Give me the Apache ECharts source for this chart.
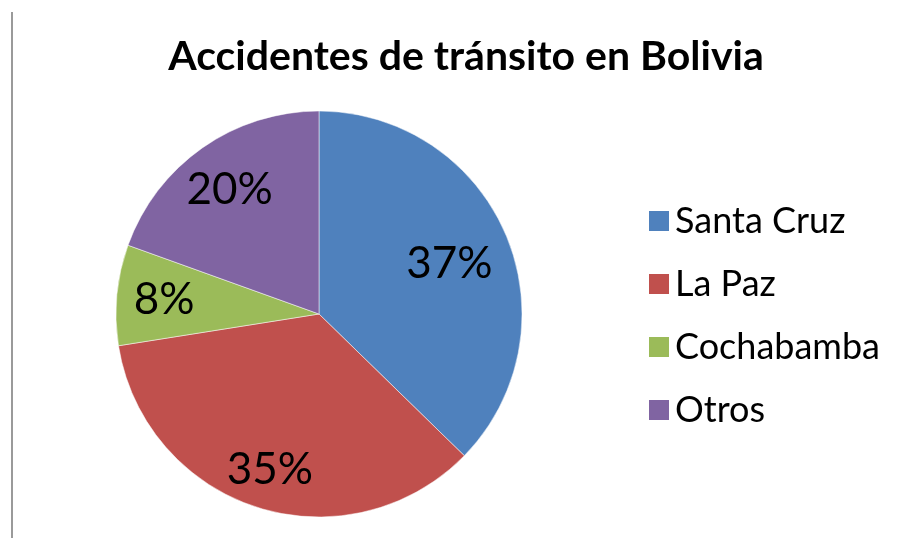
<!DOCTYPE html>
<html>
<head>
<meta charset="utf-8">
<script src="https://cdn.jsdelivr.net/npm/echarts@6/dist/echarts.min.js"></script>
<style>
html,body{margin:0;padding:0;background:#fff;}
#chart{width:899px;height:538px;}
</style>
</head>
<body>
<div id="chart"></div>
<script>
const titleText = 'Accidentes de tránsito en Bolivia';
const categories = ['Santa Cruz', 'La Paz', 'Cochabamba', 'Otros'];
const values = [37.3, 35.2, 8.0, 19.5];
const colors = ['#4F81BD', '#C0504D', '#9BBB59', '#8064A2'];

const FONT = 'Lato';
// small label nudges (style only), per slice
const labelNudgeX = [-13, -2, 0, 0];
const labelNudgeY = [10, 8, 0, 3];

const pieData = categories.map((c, i) => ({ name: c, value: values[i] }));

const chart = echarts.init(document.getElementById('chart'), null, { renderer: 'canvas' });
chart.setOption({
  backgroundColor: '#ffffff',
  animation: false,
  color: colors,
  title: {
    text: titleText,
    left: 461,
    top: 31,
    textAlign: 'center',
    textStyle: { fontFamily: FONT, fontWeight: 'bold', fontSize: 41, color: '#000' }
  },
  legend: {
    orient: 'vertical',
    left: 642,
    top: 198,
    itemWidth: 22,
    itemHeight: 22,
    itemGap: 27,
    icon: 'rect',
    data: categories,
    textStyle: { fontFamily: FONT, fontSize: 36, color: '#000', lineHeight: 36, padding: [0, 0, 0, 0] }
  },
  graphic: [{
    type: 'line',
    shape: { x1: 12, y1: 12, x2: 12, y2: 538 },
    style: { stroke: '#9a9a9a', lineWidth: 2 }
  }],
  series: [{
    type: 'pie',
    center: [319, 314],
    radius: [0, 203],
    startAngle: 90,
    clockwise: true,
    data: pieData,
    label: { show: false },
    labelLine: { show: false },
    itemStyle: { borderColor: '#ffffff', borderWidth: 0.5 },
    emphasis: { disabled: true }
  }, {
    type: 'pie',
    center: [319, 314],
    radius: [102, 203],
    startAngle: 90,
    clockwise: true,
    silent: true,
    percentPrecision: 0,
    data: pieData,
    itemStyle: { color: 'rgba(0,0,0,0)' },
    label: {
      show: true,
      position: 'inside',
      formatter: '{d}%',
      fontFamily: FONT,
      fontSize: 44,
      color: '#000'
    },
    labelLayout: function (p) {
      return { dx: labelNudgeX[p.dataIndex], dy: labelNudgeY[p.dataIndex] };
    },
    labelLine: { show: false },
    emphasis: { disabled: true }
  }]
});
</script>
</body>
</html>
